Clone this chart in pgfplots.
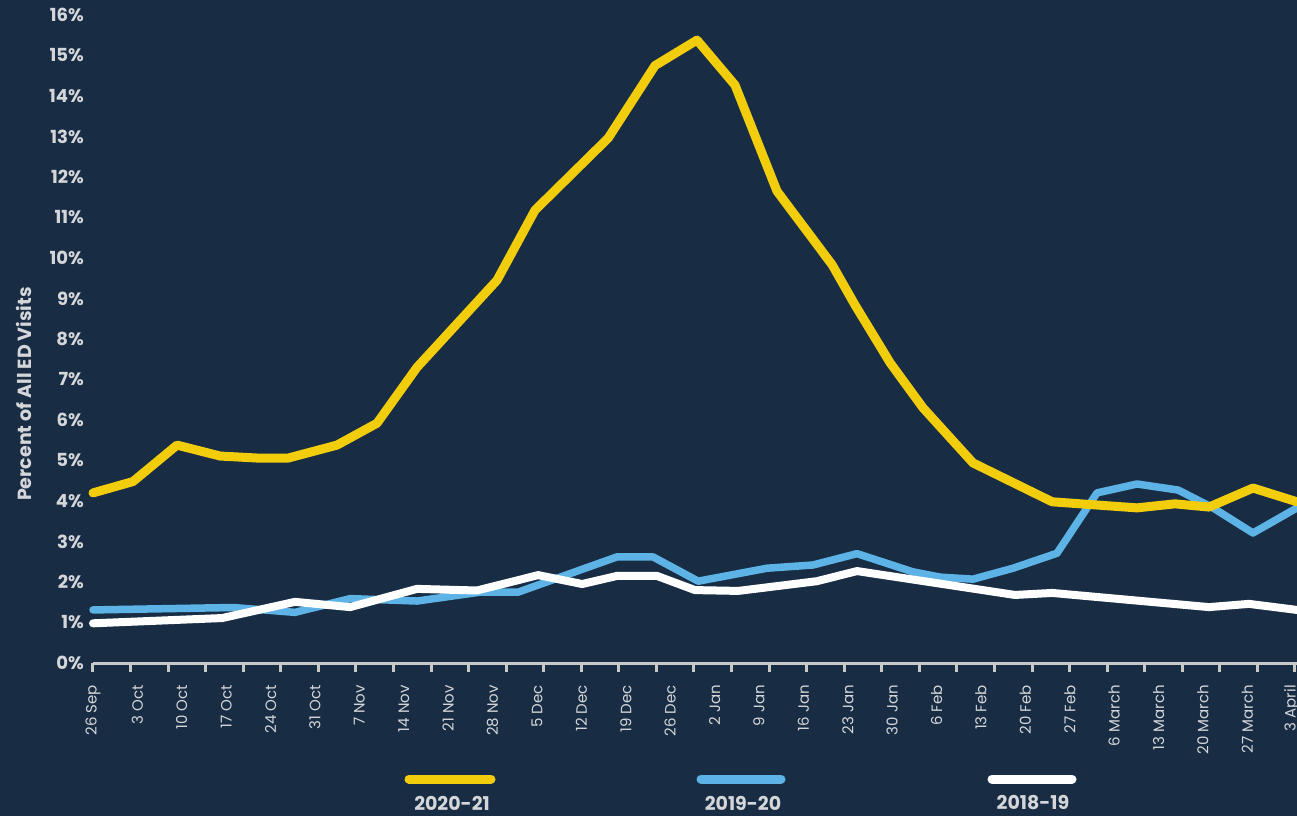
\documentclass[border=0pt]{standalone}
\usepackage{pgfplots}
\pgfplotsset{compat=1.18}
\usepackage{fontspec}
\setmainfont{Poppins}

\definecolor{bg}{RGB}{24,45,68}
\definecolor{axgray}{RGB}{200,200,200}
\definecolor{lab}{RGB}{212,214,218}
\definecolor{yel}{RGB}{242,205,12}
\definecolor{sky}{RGB}{93,179,229}

\begin{document}
\begin{tikzpicture}
\fill[bg] (-93pt,-153pt) rectangle (1204pt,663pt);
\begin{axis}[
  scale only axis, width=1204pt, height=663pt,
  xmin=0, xmax=30.1, ymin=0, ymax=16.37,
  axis x line=bottom, axis y line=left,
  x axis line style={-, draw=axgray, line width=3pt},
  y axis line style={-, draw=none},
  ytick={0,1,...,16},
  yticklabels={0\%,1\%,2\%,3\%,4\%,5\%,6\%,7\%,8\%,9\%,10\%,11\%,12\%,13\%,14\%,15\%,16\%},
  ytick style={draw=none},
  yticklabel style={font=\fontsize{18}{18}\selectfont\bfseries, text=lab, inner sep=0pt, anchor=east, xshift=0pt},
  xtick={0,0.939,1.878,2.817,3.756,4.695,5.634,6.573,7.512,8.451,9.39,10.329,11.268,12.207,13.146,14.085,15.024,15.963,16.902,17.841,18.78,19.719,20.658,21.597,22.536,23.475,24.414,25.353,26.292,27.231,28.17,29.109,30.048},
  xticklabels={},
  every tick/.append style={draw=axgray, line width=3pt},
  tick align=outside, major tick length=9pt,
  extra x ticks={0,1.11,2.22,3.33,4.44,5.55,6.66,7.77,8.88,9.99,11.1,12.21,13.32,14.43,15.54,16.65,17.76,18.87,19.98,21.09,22.2,23.31,24.42,25.53,26.64,27.75,28.86,29.97},
  extra x tick labels={26 Sep,3 Oct,10 Oct,17 Oct,24 Oct,31 Oct,7 Nov,14 Nov,21 Nov,28 Nov,5 Dec,12 Dec,19 Dec,26 Dec,2 Jan,9 Jan,16 Jan,23 Jan,30 Jan,6 Feb,13 Feb,20 Feb,27 Feb,6 March,13 March,20 March,27 March,3 April},
  extra x tick style={major tick length=0pt},
  xticklabel style={yshift=-22pt, font=\fontsize{15}{15}\selectfont, text=lab, rotate=90, anchor=east, inner sep=0pt},
  clip=false,
]
% 2019-20
\addplot[draw=sky, line width=7.5pt, line cap=round, line join=round, mark=none] coordinates {
  (0,1.31) (3.5,1.37) (5.05,1.25) (6.43,1.59) (8.1,1.53) (9.68,1.75) (10.63,1.75)
  (13.1,2.62) (14.0,2.62) (15.13,2.02) (16.85,2.34) (18.0,2.42) (19.1,2.70)
  (20.5,2.25) (21.18,2.12) (22.0,2.07) (23.0,2.34) (24.1,2.71) (25.1,4.20)
  (26.1,4.42) (27.13,4.27) (28.0,3.83) (29.0,3.21) (30.1,3.83)
};
% 2018-19
\addplot[draw=white, line width=8pt, line cap=round, line join=round, mark=none] coordinates {
  (0,0.98) (3.23,1.11) (5.05,1.51) (6.43,1.38) (8.1,1.83) (9.6,1.79) (11.13,2.17)
  (12.23,1.95) (13.1,2.15) (14.1,2.15) (15.05,1.80) (16.13,1.78) (18.1,2.02)
  (19.1,2.27) (23.05,1.68) (23.98,1.73) (27.9,1.38) (28.9,1.46) (30.1,1.31)
};
% 2020-21
\addplot[draw=yel, line width=9pt, line cap=round, line join=round, mark=none] coordinates {
  (0,4.20) (1.0,4.48) (2.1,5.38) (3.18,5.11) (4.12,5.06) (4.88,5.06) (6.1,5.38)
  (7.1,5.92) (8.1,7.30) (10.1,9.45) (11.05,11.18) (12.88,12.96) (14.05,14.75)
  (15.1,15.38) (16.05,14.27) (17.1,11.65) (18.48,9.83) (19.05,8.84) (19.93,7.41)
  (20.75,6.30) (22.0,4.94) (23.98,3.98) (26.1,3.83) (27.05,3.93) (27.9,3.85)
  (29.0,4.32) (30.1,3.98)
};
\end{axis}
\node[rotate=90, text=lab, font=\fontsize{19}{19}\selectfont\bfseries] at (-69pt,269pt) {Percent of All ED Visits};
\draw[yel, line width=9pt, line cap=round] (316pt,-116pt) -- (398pt,-116pt);
\draw[sky, line width=9pt, line cap=round] (608pt,-116pt) -- (688pt,-116pt);
\draw[white, line width=9pt, line cap=round] (899pt,-116pt) -- (979pt,-116pt);
\node[text=lab, font=\fontsize{19}{19}\selectfont\bfseries] at (359pt,-140pt) {2020-21};
\node[text=lab, font=\fontsize{19}{19}\selectfont\bfseries] at (650pt,-140pt) {2019-20};
\node[text=lab, font=\fontsize{19}{19}\selectfont\bfseries] at (940pt,-140pt) {2018-19};
\pgfresetboundingbox
\path (-93pt,-153pt) rectangle (1204pt,663pt);
\end{tikzpicture}
\end{document}
